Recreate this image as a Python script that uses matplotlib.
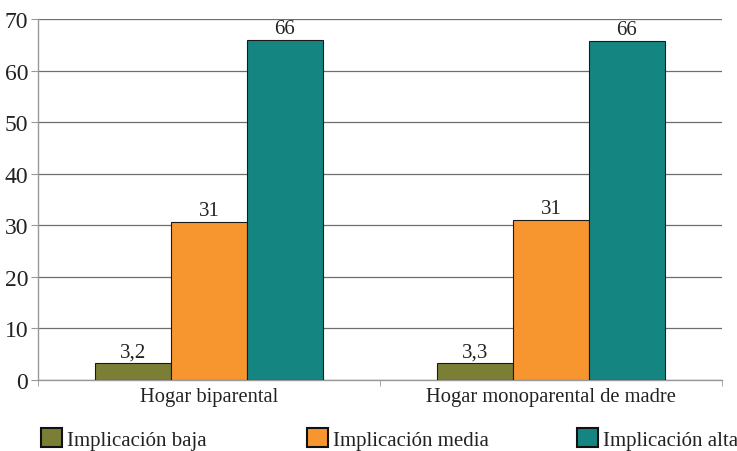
import matplotlib
matplotlib.use("Agg")
import matplotlib.pyplot as plt
from matplotlib.patches import Patch
import numpy as np

categories = ["Hogar biparental", "Hogar monoparental de madre"]
series_names = ["Implicación baja", "Implicación media", "Implicación alta"]
baja = [3.2, 3.3]
media = [30.7, 31.0]
alta = [66.0, 65.8]
labels_baja = ["3,2", "3,3"]
labels_media = ["31", "31"]
labels_alta = ["66", "66"]
yticks = [0, 10, 20, 30, 40, 50, 60, 70]

colors = ["#7b7f35", "#f7962e", "#158582"]

plt.rcParams['font.family'] = ['Liberation Serif', 'DejaVu Serif']

fig = plt.figure(figsize=(7.37, 4.52), dpi=100)
ax = fig.add_axes([38/737, 1-381/452, (722-38)/737, (381-20)/452])

x = np.arange(len(categories))
w = 0.222
series = [baja, media, alta]
labs = [labels_baja, labels_media, labels_alta]
for i, (vals, lb) in enumerate(zip(series, labs)):
    bars = ax.bar(x + (i-1)*w, vals, w, color=colors[i], edgecolor="#1a1a1a",
                  linewidth=0.8, zorder=3)
    for b, t in zip(bars, lb):
        ax.text(b.get_x()+b.get_width()/2, b.get_height()+1.3, t,
                ha='center', va='baseline', fontsize=15, color="#222222")

ax.set_xlim(-0.5, 1.5)
ax.set_ylim(0, 70)
ax.set_yticks(yticks)
ax.set_yticklabels([str(v) for v in yticks], fontsize=17, color="#222222")
ax.yaxis.grid(True, color="#6e6e6e", linewidth=0.9, zorder=0)
ax.set_axisbelow(True)
ax.set_xticks(x)
ax.set_xticklabels(categories, fontsize=14.8, color="#222222")
ax.tick_params(axis='x', length=0, pad=5)
ax.set_xticks([-0.5, 0.5, 1.5], minor=True)
ax.tick_params(axis='x', which='minor', length=4, color="#999999")
ax.tick_params(axis='y', length=5, color="#999999", pad=2)
for s in ["top", "right"]:
    ax.spines[s].set_visible(False)
for s in ["left", "bottom"]:
    ax.spines[s].set_color("#999999")
    ax.spines[s].set_linewidth(1.0)

legend_x = [41, 307, 577]
for i, name in enumerate(series_names):
    h = Patch(facecolor=colors[i], edgecolor="#111111", linewidth=1.5)
    fig.legend([h], [name], loc='center left',
               bbox_to_anchor=(legend_x[i]/737, 1-440/452),
               frameon=False, fontsize=15, handlelength=1.0, handleheight=1.0,
               handletextpad=0.25, borderaxespad=0, borderpad=0,
               labelcolor="#222222")

fig.savefig("out.png", dpi=100)
